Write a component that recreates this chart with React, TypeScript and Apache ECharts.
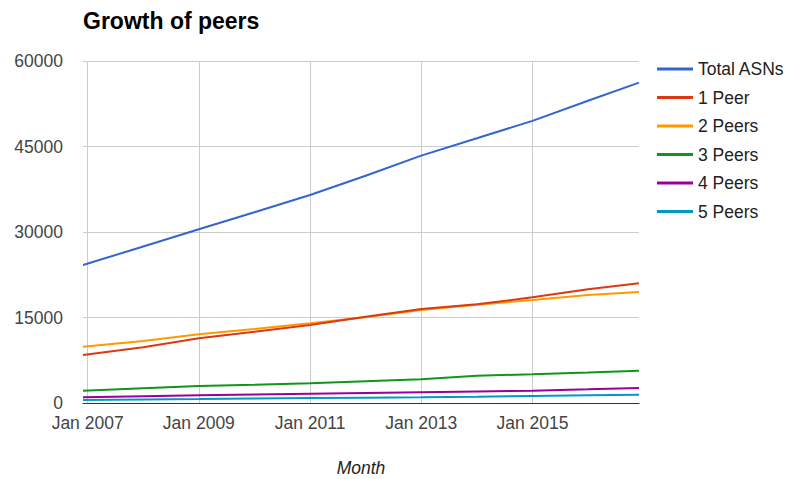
import React, { useEffect, useRef } from "react";
import * as echarts from "echarts";

// Sample months (YYYY-MM) for every series
const months = [
  "2006-12", "2008-01", "2009-01", "2010-01", "2011-01", "2012-01",
  "2013-01", "2014-01", "2015-01", "2016-01", "2016-12",
];

const seriesNames = ["Total ASNs", "1 Peer", "2 Peers", "3 Peers", "4 Peers", "5 Peers"];

const totalAsns = [24200, 27460, 30470, 33470, 36490, 39860, 43400, 46440, 49500, 53020, 56200];
const onePeer = [8420, 9770, 11350, 12510, 13680, 15150, 16500, 17310, 18540, 19950, 21000];
const twoPeers = [9880, 10880, 12050, 12980, 13980, 15050, 16300, 17250, 18070, 18950, 19470];
const threePeers = [2160, 2600, 2980, 3200, 3450, 3800, 4150, 4800, 5030, 5350, 5670];
const fourPeers = [1000, 1180, 1350, 1500, 1640, 1760, 1870, 2000, 2160, 2400, 2630];
const fivePeers = [530, 620, 700, 790, 880, 940, 1000, 1100, 1230, 1350, 1460];

const yTicks = [0, 15000, 30000, 45000, 60000];
const xTickYears = [2007, 2009, 2011, 2013, 2015];

const colors = ["#3366cc", "#dc3912", "#ff9900", "#109618", "#990099", "#0099c6"];

const FONT = "'Liberation Sans', Arial, Helvetica, sans-serif";

// 'YYYY-MM' -> decimal year
const toYear = (m: string) => {
  const [y, mo] = m.split("-").map(Number);
  return y + (mo - 1) / 12;
};

export default function App() {
  const ref = useRef<HTMLDivElement>(null);

  useEffect(() => {
    document.body.style.margin = "0";
    if (!ref.current) return;
    const chart = echarts.init(ref.current, null, { renderer: "svg" });

    const values = [totalAsns, onePeer, twoPeers, threePeers, fourPeers, fivePeers];
    const xs = months.map(toYear);

    chart.setOption({
      animation: false,
      backgroundColor: "#ffffff",
      color: colors,
      title: {
        text: "Growth of peers",
        left: 83,
        top: 9,
        padding: 0,
        textStyle: { fontFamily: FONT, fontSize: 23, fontWeight: "bold", color: "#000" },
      },
      legend: {
        orient: "vertical",
        left: 657,
        top: 59,
        padding: 0,
        icon: "rect",
        itemWidth: 36,
        itemHeight: 3,
        itemGap: 8.5,
        data: seriesNames,
        textStyle: { fontFamily: FONT, fontSize: 17.5, color: "#222", lineHeight: 20 },
      },
      grid: { left: 83, top: 61, right: 153, bottom: 76, outerBoundsMode: "none" },
      xAxis: {
        type: "value",
        min: xs[0],
        max: xs[xs.length - 1],
        name: "Month",
        nameLocation: "middle",
        nameGap: 57,
        nameTextStyle: {
          fontFamily: FONT,
          fontSize: 17.5,
          fontStyle: "italic",
          color: "#222",
          lineHeight: 16,
        },
        axisLine: { show: true, lineStyle: { color: "#333", width: 1 } },
        axisTick: { show: false, customValues: xTickYears },
        axisLabel: {
          customValues: xTickYears,
          formatter: (v: number) => "Jan " + Math.round(v),
          fontFamily: FONT,
          fontSize: 17.5,
          color: "#444",
          margin: 11,
          showMinLabel: true,
          showMaxLabel: true,
        },
        splitLine: { show: true, lineStyle: { color: "#cccccc", width: 1 } },
      },
      yAxis: {
        type: "value",
        min: 0,
        max: 60000,
        interval: 15000,
        axisLine: { show: false },
        axisTick: { show: false },
        axisLabel: {
          fontFamily: FONT,
          fontSize: 17.5,
          color: "#444",
          margin: 20,
          formatter: (v: number) => (yTicks.includes(v) ? String(v) : ""),
        },
        splitLine: { show: true, lineStyle: { color: "#cccccc", width: 1 } },
      },
      series: seriesNames.map((name, i) => ({
        name,
        type: "line",
        data: xs.map((x, j) => [x, values[i][j]]),
        showSymbol: false,
        symbol: "none",
        lineStyle: { width: 2, color: colors[i] },
        itemStyle: { color: colors[i] },
        z: 10 - i,
      })),
    });

    return () => chart.dispose();
  }, []);

  return <div ref={ref} style={{ width: 792, height: 479 }} />;
}
